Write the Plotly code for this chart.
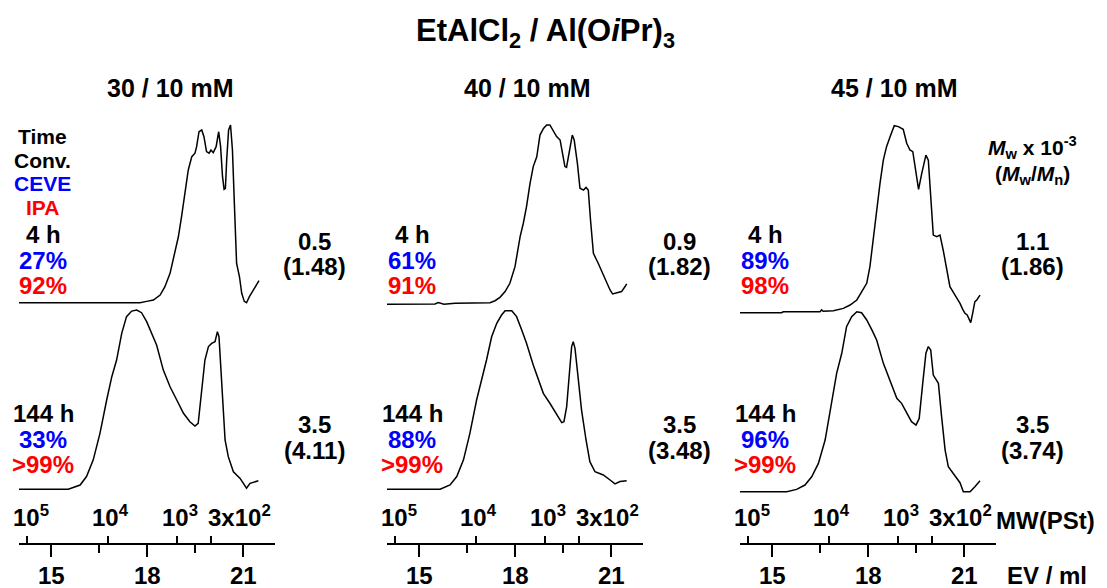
import plotly.graph_objects as go

# ---------------- data ----------------
panel_titles = ["30 / 10 mM", "40 / 10 mM", "45 / 10 mM"]
times = ["4 h", "144 h"]
ceve_conv = [["27%", "33%"], ["61%", "88%"], ["89%", "96%"]]
ipa_conv = [["92%", ">99%"], ["91%", ">99%"], ["98%", ">99%"]]
mw_vals = [["0.5", "3.5"], ["0.9", "3.5"], ["1.1", "3.5"]]
mwmn_vals = [["(1.48)", "(4.11)"], ["(1.82)", "(3.48)"], ["(1.86)", "(3.74)"]]

ev_ticks = [15, 18, 21]
ev_minor_ticks = [16.5, 19.5]
mw_tick_ev = [14.24, 16.79, 18.93, 19.99]
mw_tick_labels = ["10<sup>5</sup>", "10<sup>4</sup>", "10<sup>3</sup>", "3x10<sup>2</sup>"]

# panel 1 (30/10 mM)
p1_4h_ev = [14.0, 17.78, 17.99, 18.20, 18.41, 18.56, 18.72, 18.875, 18.98, 19.08, 19.19, 19.29, 19.40, 19.50, 19.55,
            19.625, 19.71, 19.78, 19.86, 19.94, 20.0, 20.07, 20.16, 20.24, 20.30, 20.36, 20.41, 20.45, 20.49, 20.55,
            20.61, 20.67, 20.73, 20.80, 20.89, 20.96, 21.04, 21.11, 21.20, 21.30, 21.43, 21.50]
p1_4h_int = [0, 0, 0.0075, 0.015, 0.043, 0.090, 0.165, 0.278, 0.371, 0.484, 0.615, 0.747, 0.822, 0.841, 0.878,
             0.962, 0.972, 0.934, 0.850, 0.841, 0.859, 0.844, 0.878, 0.962, 0.878, 0.709, 0.638, 0.643, 0.803, 0.972,
             1.0, 0.859, 0.559, 0.221, 0.146, 0.053, 0.0075, 0, 0.034, 0.062, 0.099, 0.124]
p1_144h_ev = [14.0, 15.54, 15.91, 16.11, 16.32, 16.53, 16.74, 16.90, 17.05, 17.21, 17.36, 17.52, 17.68, 17.83, 17.99,
              18.15, 18.30, 18.51, 18.72, 18.93, 19.14, 19.34, 19.50, 19.60, 19.71, 19.81, 19.92, 20.02, 20.125, 20.20,
              20.25, 20.33, 20.44, 20.54, 20.70, 20.91, 21.03, 21.11, 21.22, 21.375, 21.48]
p1_144h_int = [0, 0, 0.024, 0.071, 0.164, 0.312, 0.498, 0.628, 0.721, 0.870, 0.963, 0.994, 1.0, 0.985, 0.935,
               0.870, 0.805, 0.665, 0.572, 0.498, 0.424, 0.377, 0.353, 0.368, 0.535, 0.721, 0.796, 0.814, 0.823, 0.879,
               0.851, 0.591, 0.275, 0.182, 0.098, 0.061, 0.024, 0.006, 0.033, 0.043, 0.048]

# panel 2 (40/10 mM)
p2_4h_ev = [14.0, 15.5, 15.60, 15.71, 15.78, 16.125, 17.22, 17.375, 17.53, 17.69, 17.84, 18.0, 18.16, 18.26, 18.36,
            18.47, 18.57, 18.68, 18.78, 18.89, 18.99, 19.09, 19.20, 19.30, 19.41, 19.49, 19.56, 19.61, 19.69, 19.79,
            19.85, 19.95, 20.03, 20.14, 20.22, 20.29, 20.36, 20.45, 20.60, 20.76, 20.89, 20.97, 21.05, 21.18, 21.33,
            21.44, 21.49]
p2_4h_int = [0, 0.002, 0.0093, 0.0056, 0, 0.0056, 0.0093, 0.020, 0.039, 0.071, 0.117, 0.210, 0.377, 0.452, 0.545,
             0.675, 0.768, 0.823, 0.944, 0.981, 1.0, 1.0, 0.963, 0.935, 0.916, 0.842, 0.768, 0.764, 0.842, 0.944,
             0.916, 0.786, 0.647, 0.637, 0.652, 0.637, 0.470, 0.284, 0.229, 0.164, 0.117, 0.080, 0.058, 0.065, 0.071,
             0.099, 0.114]
p2_144h_ev = [14.0, 15.66, 15.97, 16.18, 16.39, 16.59, 16.80, 16.96, 17.11, 17.27, 17.43, 17.58, 17.69, 17.90, 18.05,
              18.21, 18.36, 18.57, 18.73, 18.885, 19.09, 19.30, 19.46, 19.53, 19.615, 19.70, 19.77, 19.82, 19.875,
              19.98, 20.08, 20.22, 20.34, 20.50, 20.76, 20.97, 21.125, 21.28, 21.49]
p2_144h_int = [0, 0, 0.024, 0.071, 0.164, 0.312, 0.498, 0.610, 0.721, 0.851, 0.926, 0.972, 0.996, 0.996, 0.963,
               0.888, 0.814, 0.693, 0.610, 0.535, 0.480, 0.414, 0.372, 0.377, 0.461, 0.647, 0.796, 0.823, 0.786,
               0.610, 0.442, 0.275, 0.154, 0.098, 0.080, 0.052, 0.030, 0.043, 0.048]

# panel 3 (45/10 mM)
p3_4h_ev = [14.0, 15.30, 15.35, 16.5, 16.55, 16.60, 16.92, 17.23, 17.44, 17.56, 17.65, 17.80, 17.96, 18.06, 18.17,
            18.27, 18.375, 18.48, 18.58, 18.69, 18.82, 18.95, 19.10, 19.21, 19.31, 19.40, 19.48, 19.58, 19.68, 19.81,
            19.885, 19.94, 20.04, 20.15, 20.25, 20.35, 20.46, 20.56, 20.72, 20.875, 20.96, 21.03, 21.10, 21.21, 21.27,
            21.34, 21.40, 21.5]
p3_4h_int = [0, 0, 0.005, 0.005, 0.015, 0.0075, 0.011, 0.023, 0.041, 0.059, 0.068, 0.112, 0.157, 0.246, 0.406,
             0.549, 0.692, 0.817, 0.888, 0.941, 1.0, 0.995, 0.981, 0.906, 0.870, 0.861, 0.763, 0.660, 0.745, 0.843,
             0.816, 0.692, 0.415, 0.406, 0.415, 0.335, 0.228, 0.139, 0.094, 0.050, 0.018, -0.0035, -0.012, -0.053,
             -0.0035, 0.059, 0.068, 0.094]
p3_144h_ev = [14.0, 15.46, 15.77, 16.03, 16.24, 16.45, 16.66, 16.81, 17.02, 17.18, 17.33, 17.49, 17.65, 17.80, 17.96,
              18.125, 18.27, 18.48, 18.69, 18.90, 19.05, 19.21, 19.36, 19.50, 19.60, 19.71, 19.81, 19.885, 19.96,
              20.04, 20.20, 20.30, 20.41, 20.51, 20.67, 20.875, 20.98, 21.19, 21.34, 21.5]
p3_144h_int = [0, 0, 0.013, 0.037, 0.083, 0.157, 0.287, 0.435, 0.657, 0.769, 0.917, 0.972, 1.0, 0.994, 0.954,
               0.898, 0.843, 0.713, 0.620, 0.519, 0.491, 0.435, 0.389, 0.370, 0.407, 0.602, 0.769, 0.806, 0.787,
               0.648, 0.602, 0.417, 0.231, 0.139, 0.102, 0.050, 0, 0, 0.028, 0.061]

traces_ev = [[p1_4h_ev, p1_144h_ev], [p2_4h_ev, p2_144h_ev], [p3_4h_ev, p3_144h_ev]]
traces_int = [[p1_4h_int, p1_144h_int], [p2_4h_int, p2_144h_int], [p3_4h_int, p3_144h_int]]

# ---------------- layout constants (page pixels) ----------------
PAGE_W, PAGE_H = 1107, 588
OFF = 8  # default body margin of the html page
W, H = PAGE_W - OFF, PAGE_H - OFF
panel_px = [(19, 275), (387, 643), (740, 996)]
# baseline / height of each trace, in pixels above the bottom of the page
trace_base = [[285.3, 98.7], [283.7, 98.7], [275.3, 96.3]]
trace_height = [[177.7, 179.3], [179.3, 179.3], [187.0, 180.0]]
axis_y_px = 544.3
mw_label_y_px = 516
ev_label_y_px = 575
mw_label_xshift = [4, 2, 3, 29]

FONT = "Liberation Sans, Arial, Helvetica, sans-serif"


def px(x, y):
    return (x - OFF) / W, 1 - (y - OFF) / H


fig = go.Figure()
layout = dict(
    width=W, height=H, margin=dict(l=0, r=0, t=0, b=0, pad=0, autoexpand=False),
    paper_bgcolor="white", plot_bgcolor="white", showlegend=False,
    yaxis=dict(domain=[0, 1], range=[0, PAGE_H - OFF], visible=False, fixedrange=True, automargin=False),
)

annotations = []
pos = 1 - (axis_y_px - OFF) / H


def add_text(x, y, text, size, color="black", xref="paper", xshift=0):
    if xref == "paper":
        ax, ay = px(x, y)
    else:
        ax, ay = x, px(0, y)[1]
    annotations.append(dict(x=ax, y=ay, xref=xref, yref="paper", text=text, showarrow=False,
                            xanchor="center", yanchor="middle", xshift=xshift,
                            font=dict(family=FONT, size=size, color=color)))


for i in range(3):
    evname = "x" if i == 0 else f"x{2 * i + 1}"
    mwname = f"x{2 * i + 2}"
    evkey = "xaxis" if i == 0 else f"xaxis{2 * i + 1}"
    mwkey = f"xaxis{2 * i + 2}"
    dom = [(panel_px[i][0] - OFF) / W, (panel_px[i][1] - OFF) / W]
    layout[evkey] = dict(
        domain=dom, range=[14, 22], anchor="free", position=pos, automargin=False,
        showline=True, linecolor="black", linewidth=1.5, showgrid=False, zeroline=False,
        tickmode="array", ticks="outside", ticklen=12, tickwidth=1.5, tickcolor="black",
        tickvals=ev_ticks, showticklabels=False,
        minor=dict(tickmode="array", tickvals=ev_minor_ticks, ticks="outside", ticklen=8,
                   tickwidth=1.5, tickcolor="black", showgrid=False),
        side="bottom", fixedrange=True,
    )
    layout[mwkey] = dict(
        domain=dom, range=[14, 22], anchor="free", position=pos, overlaying=evname, automargin=False,
        showline=False, showgrid=False, zeroline=False,
        tickmode="array", ticks="outside", ticklen=8, tickwidth=1.5, tickcolor="black",
        tickvals=mw_tick_ev, showticklabels=False,
        side="top", fixedrange=True,
    )
    for j in range(2):
        ys = [trace_base[i][j] + v * trace_height[i][j] for v in traces_int[i][j]]
        fig.add_trace(go.Scatter(x=traces_ev[i][j], y=ys, xaxis=evname, yaxis="y", mode="lines",
                                 line=dict(color="black", width=1.5), hoverinfo="skip"))
    # invisible trace so that the MW axis is drawn
    fig.add_trace(go.Scatter(x=mw_tick_ev, y=[trace_base[i][1]] * len(mw_tick_ev), xaxis=mwname, yaxis="y",
                             mode="markers", marker=dict(opacity=0), hoverinfo="skip"))
    for k, lab in enumerate(mw_tick_labels):
        add_text(mw_tick_ev[k], mw_label_y_px, f"<b>{lab}</b>", 24, xref=mwname, xshift=mw_label_xshift[k])
    for v in ev_ticks:
        add_text(v, ev_label_y_px, f"<b>{v}</b>", 24, xref=evname)


add_text(545, 33, "<b>EtAlCl<sub>2</sub> / Al(O<i>i</i>Pr)<sub>3</sub></b>", 31)
header_x = [170, 527, 894]
for i in range(3):
    add_text(header_x[i], 88, f"<b>{panel_titles[i]}</b>", 25)

add_text(42, 137, "<b>Time</b>", 21)
add_text(42, 160, "<b>Conv.</b>", 21)
add_text(42, 183, "<b>CEVE</b>", 21, "#0000ff")
add_text(42, 207, "<b>IPA</b>", 21, "#ff0000")

left_x = [43, 412, 765]
right_x = [314, 679, 1032]
row_y_left = [(235, 260, 285), (413, 439, 464)]
row_y_right = [(241, 266), (424, 450)]
for i in range(3):
    for j in range(2):
        y0, y1, y2 = row_y_left[j]
        add_text(left_x[i], y0, f"<b>{times[j]}</b>", 24)
        add_text(left_x[i], y1, f"<b>{ceve_conv[i][j]}</b>", 24, "#0000ff")
        add_text(left_x[i], y2, f"<b>{ipa_conv[i][j]}</b>", 24, "#ff0000")
        r0, r1 = row_y_right[j]
        add_text(right_x[i], r0, f"<b>{mw_vals[i][j]}</b>", 24)
        add_text(right_x[i], r1, f"<b>{mwmn_vals[i][j]}</b>", 24)

add_text(1032, 147, "<b><i>M</i><sub>w</sub> x 10<sup>-3</sup></b>", 21)
add_text(1032, 175, "<b>(<i>M</i><sub>w</sub>/<i>M</i><sub>n</sub>)</b>", 21)
add_text(1045, 520, "<b>MW(PSt)</b>", 24)
add_text(1047, 575, "<b>EV / ml</b>", 24)

layout["annotations"] = annotations
fig.update_layout(**layout)
fig.write_html("out.html")
